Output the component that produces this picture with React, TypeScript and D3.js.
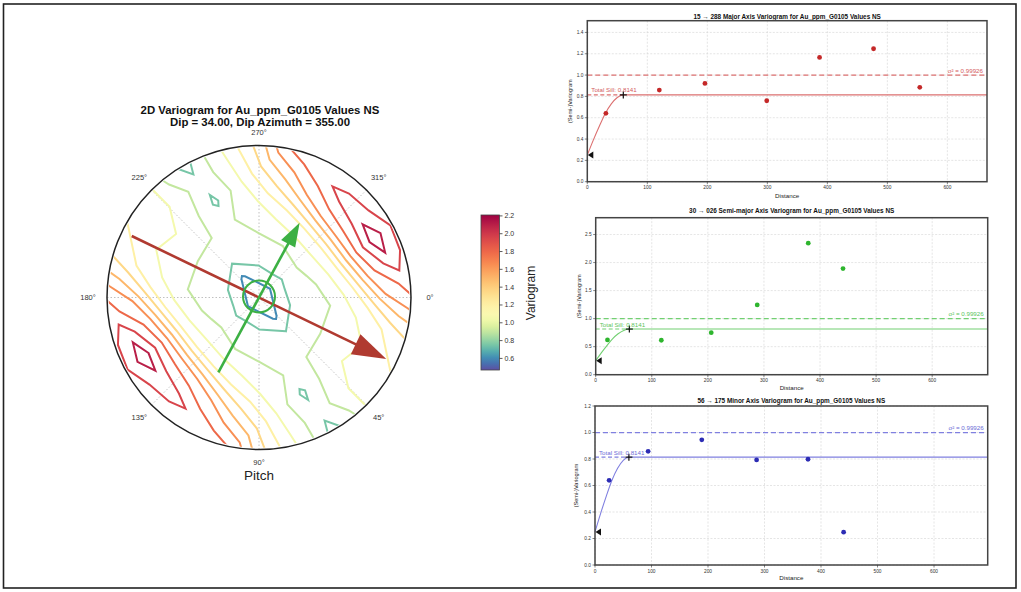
import React from "react";
import * as d3 from "d3";

const W = 1021;
const H = 592;
const FONT = "'Liberation Sans', Arial, sans-serif";

// ---- 2D variogram map ----
// grid in a frame turned by gridAngle: columns run along the
// ridge normal, rows along the ridge (13 x 13, first row = far up-left end)
const gridAngle = -38.5;
const gridCols = 13;
const gridRows = 13;
const gridValues: number[][] = [
  [1.65, 1.75, 1.4, 1.3, 1.2, 1.15, 0.87, 0.68, 0.95, 1.15, 1.4, 1.7, 1.7],
  [1.7, 1.8, 1.45, 1.25, 1.15, 1.12, 0.97, 0.8, 0.95, 1.2, 1.45, 1.8, 1.75],
  [1.75, 1.85, 1.55, 1.2, 1.05, 1.05, 0.93, 0.72, 0.96, 1.25, 1.6, 1.92, 1.8],
  [1.8, 1.88, 1.65, 1.15, 0.95, 0.93, 0.9, 0.89, 0.95, 1.25, 1.6, 1.9, 1.8],
  [1.85, 2.06, 1.72, 1.12, 0.9, 0.85, 0.82, 0.86, 0.93, 1.2, 1.65, 1.92, 1.8],
  [1.9, 2.2, 1.75, 1.12, 0.88, 0.8, 0.58, 0.8, 0.9, 1.15, 1.7, 2.0, 1.85],
  [1.85, 2.06, 1.72, 1.12, 0.92, 0.72, 0.45, 0.72, 0.92, 1.12, 1.72, 2.06, 1.85],
  [1.85, 2.0, 1.7, 1.15, 0.9, 0.8, 0.58, 0.8, 0.88, 1.12, 1.75, 2.2, 1.9],
  [1.8, 1.92, 1.65, 1.2, 0.93, 0.86, 0.82, 0.85, 0.9, 1.12, 1.72, 2.06, 1.85],
  [1.8, 1.9, 1.6, 1.25, 0.95, 0.89, 0.9, 0.93, 0.95, 1.15, 1.65, 1.88, 1.8],
  [1.8, 1.92, 1.6, 1.25, 0.96, 0.72, 0.93, 1.05, 1.05, 1.2, 1.55, 1.85, 1.75],
  [1.75, 1.8, 1.45, 1.2, 0.95, 0.8, 0.97, 1.12, 1.15, 1.25, 1.45, 1.8, 1.7],
  [1.7, 1.7, 1.4, 1.15, 0.95, 0.68, 0.87, 1.15, 1.2, 1.3, 1.4, 1.75, 1.65],
];
const contourLevels = [0.6, 0.75, 0.9, 1.05, 1.2, 1.35, 1.5, 1.65, 1.8, 1.95, 2.1];
const colorMin = 0.47;
const colorMid = 1.1;
const colorMax = 2.21;
const colorbarTicks = [0.6, 0.8, 1.0, 1.2, 1.4, 1.6, 1.8, 2.0, 2.2];
const angleTicks = [0, 45, 90, 135, 180, 225, 270, 315];

// arrows: angle (deg, clockwise from east), half length (fraction of radius)
const majorArrow = { angle: 25.8, len: 0.93 };
const semiArrow = { angle: -61.5, len: 0.56 };

// ---- experimental variograms ----
const xTicks = [0, 100, 200, 300, 400, 500, 600];
const majorLag = [31, 120, 196, 299, 387, 477, 554];
const majorGamma = [0.641, 0.859, 0.922, 0.759, 1.166, 1.247, 0.885];
const semiLag = [21, 117, 206, 288, 379, 441];
const semiGamma = [0.62, 0.614, 0.75, 1.245, 2.346, 1.893];
const minorLag = [25, 94, 189, 286, 377, 440];
const minorGamma = [0.639, 0.858, 0.945, 0.793, 0.798, 0.248];

// fitted model
const modelLag = [0, 10, 20, 30, 40, 50, 60];
const modelGamma = [0.25, 0.39, 0.52, 0.64, 0.73, 0.79, 0.8141];
const totalSill = 0.8141;
const sigma2 = 0.99926;
const nugget = 0.25;
const modelRange = 60;

// spectral_r, pale yellow placed near the sill
const colorT = d3.scaleLinear().domain([colorMin, colorMid, colorMax]).range([0, 0.5, 1]).clamp(true);
const colorOf = (v: number) => d3.interpolateSpectral(1 - colorT(v));

function PolarMap() {
  const cx = 259;
  const cy = 297.5;
  const R = 152;
  const su = d3.scaleLinear().domain([0.5, gridCols - 0.5]).range([-R, R]);
  const sv = d3.scaleLinear().domain([0.5, gridRows - 0.5]).range([-R, R]);
  const a = (gridAngle * Math.PI) / 180;
  const nx = Math.cos(a), ny = Math.sin(a);
  const contours = d3.contours().size([gridCols, gridRows]).thresholds(contourLevels)(gridValues.flat());
  const path = d3.geoPath(
    d3.geoTransform({
      point(x: number, y: number) {
        const s = su(x), t = sv(y);
        // @ts-ignore
        this.stream.point(cx + s * nx - t * ny, cy + s * ny + t * nx);
      },
    })
  );

  const arrow = (ar: { angle: number; len: number }, color: string, headL: number, headW: number) => {
    const t = (ar.angle * Math.PI) / 180;
    const ux = Math.cos(t), uy = Math.sin(t);
    const L = ar.len * R;
    const sx = cx - L * ux, sy = cy - L * uy;
    const tx = cx + L * ux, ty = cy + L * uy;
    const bx = tx - headL * ux, by = ty - headL * uy;
    const pts = [
      [tx, ty],
      [bx - headW * uy, by + headW * ux],
      [bx + headW * uy, by - headW * ux],
    ];
    return (
      <g>
        <line x1={sx} y1={sy} x2={bx + ux * 2} y2={by + uy * 2} stroke={color} strokeWidth={2.6} />
        <polygon points={pts.map((p) => p.join(",")).join(" ")} fill={color} />
      </g>
    );
  };

  return (
    <g>
      <text x={260} y={114} textAnchor="middle" fontFamily={FONT} fontWeight="bold" fontSize={11.4} fill="#111">
        2D Variogram for Au_ppm_G0105 Values NS
      </text>
      <text x={260} y={126} textAnchor="middle" fontFamily={FONT} fontWeight="bold" fontSize={11.4} fill="#111">
        Dip = 34.00, Dip Azimuth = 355.00
      </text>
      <defs>
        <clipPath id="polarClip">
          <circle cx={cx} cy={cy} r={R - 1.5} />
        </clipPath>
      </defs>
      {angleTicks.map((d) => {
        const t = (d * Math.PI) / 180;
        return (
          <line key={"g" + d} x1={cx} y1={cy} x2={cx + R * Math.cos(t)} y2={cy + R * Math.sin(t)}
            stroke="#b0b0b0" strokeWidth={0.8} strokeDasharray="1.5,2" />
        );
      })}
      <g clipPath="url(#polarClip)">
        {contours.map((c, i) => (
          <path key={i} d={path(c as any) || ""} fill="none" stroke={colorOf(c.value)}
            strokeWidth={2} strokeLinejoin="miter" />
        ))}
      </g>
      <circle cx={cx} cy={cy} r={R} fill="none" stroke="#222" strokeWidth={1.5} />
      {angleTicks.map((d) => {
        const t = (d * Math.PI) / 180;
        const rr = 165 + 6 * Math.abs(Math.cos(t));
        return (
          <text key={"l" + d} x={cx + rr * Math.cos(t)} y={cy + rr * Math.sin(t)} textAnchor="middle"
            dominantBaseline="central" fontFamily={FONT} fontSize={7.5} fill="#333">
            {d}°
          </text>
        );
      })}
      {arrow(majorArrow, "#b03a30", 34, 11)}
      {arrow(semiArrow, "#3cb043", 24, 8)}
      <circle cx={cx} cy={cy - 1} r={16} fill="none" stroke="#3cb043" strokeWidth={2} />
      <text x={cx} y={480} textAnchor="middle" fontFamily={FONT} fontSize={13.5} fill="#222">
        Pitch
      </text>
    </g>
  );
}

function Colorbar() {
  const x0 = 481, x1 = 499.5, y0 = 215, y1 = 370;
  const y = d3.scaleLinear().domain([colorMin, colorMax]).range([y1, y0]);
  const stops = d3.range(0, 1.0001, 0.04);
  return (
    <g>
      <defs>
        <linearGradient id="cbGrad" x1="0" y1="1" x2="0" y2="0">
          {stops.map((s) => (
            <stop key={s} offset={s} stopColor={colorOf(colorMin + s * (colorMax - colorMin))} />
          ))}
        </linearGradient>
      </defs>
      <rect x={x0} y={y0} width={x1 - x0} height={y1 - y0} fill="url(#cbGrad)" stroke="#444" strokeWidth={0.8} />
      {colorbarTicks.map((t) => (
        <g key={t}>
          <line x1={x1} x2={x1 + 3} y1={y(t)} y2={y(t)} stroke="#333" strokeWidth={0.8} />
          <text x={x1 + 5} y={y(t)} dominantBaseline="central" fontFamily={FONT} fontSize={7} fill="#333">
            {t.toFixed(1)}
          </text>
        </g>
      ))}
      <text transform={`translate(531,293) rotate(-90)`} textAnchor="middle" dominantBaseline="central"
        fontFamily={FONT} fontSize={12} fill="#222">
        Variogram
      </text>
    </g>
  );
}

interface PanelSpec {
  title: string;
  x0: number; x1: number; y0: number; y1: number;
  xMax: number; yMax: number; yTicks: number[];
  lags: number[]; gammas: number[];
  pointColor: string; lineColor: string; labelColor: string;
  titleY: number; xlabelY: number; ylabelX: number;
}

function Panel({ p }: { p: PanelSpec }) {
  const x = d3.scaleLinear().domain([0, p.xMax]).range([p.x0, p.x1]);
  const y = d3.scaleLinear().domain([0, p.yMax]).range([p.y1, p.y0]);
  const model: [number, number][] = modelLag.map((d, i) => [d, modelGamma[i]] as [number, number]);
  model.push([p.xMax, totalSill]);
  const line = d3.line<[number, number]>().x((d) => x(d[0])).y((d) => y(d[1])).curve(d3.curveMonotoneX);
  const cxm = (p.x0 + p.x1) / 2;
  const fs = 4.8;
  return (
    <g fontFamily={FONT}>
      <text x={cxm} y={p.titleY} textAnchor="middle" dominantBaseline="central" fontWeight="bold" fontSize={6.4} fill="#111">
        {p.title}
      </text>
      {xTicks.map((t) => (
        <line key={"vx" + t} x1={x(t)} x2={x(t)} y1={p.y0} y2={p.y1} stroke="#d4d4d4" strokeWidth={0.6} strokeDasharray="2,1.5" />
      ))}
      {p.yTicks.map((t) => (
        <line key={"hy" + t} x1={p.x0} x2={p.x1} y1={y(t)} y2={y(t)} stroke="#d4d4d4" strokeWidth={0.6} strokeDasharray="2,1.5" />
      ))}
      <line x1={p.x0} x2={p.x1} y1={y(sigma2)} y2={y(sigma2)} stroke={p.lineColor} strokeWidth={1.1} strokeDasharray="5,3" />
      <line x1={x(0)} x2={x(modelRange)} y1={y(totalSill)} y2={y(totalSill)} stroke={p.lineColor} strokeWidth={1.1} strokeDasharray="4,2.5" />
      <path d={line(model) || ""} fill="none" stroke={p.lineColor} strokeWidth={1.1} />
      {p.lags.map((d, i) => (
        <circle key={"pt" + i} cx={x(d)} cy={y(p.gammas[i])} r={2.4} fill={p.pointColor} />
      ))}
      <polygon
        points={`${x(0) + 0.5},${y(nugget)} ${x(0) + 6},${y(nugget) - 3.5} ${x(0) + 6},${y(nugget) + 3.5}`}
        fill="#111"
      />
      <g stroke="#111" strokeWidth={1.2}>
        <line x1={x(modelRange) - 3.5} x2={x(modelRange) + 3.5} y1={y(totalSill)} y2={y(totalSill)} />
        <line x1={x(modelRange)} x2={x(modelRange)} y1={y(totalSill) - 3.5} y2={y(totalSill) + 3.5} />
      </g>
      <text x={x(0) + 4} y={y(totalSill) - 2.5} fontSize={6.2} fill={p.labelColor}>
        Total Sill: 0.8141
      </text>
      <text x={p.x1 - 4} y={y(sigma2) - 2.5} textAnchor="end" fontSize={6.2} fill={p.labelColor}>
        σ² = 0.99926
      </text>
      <rect x={p.x0} y={p.y0} width={p.x1 - p.x0} height={p.y1 - p.y0} fill="none" stroke="#444" strokeWidth={1.5} />
      {xTicks.map((t) => (
        <g key={"xt" + t}>
          <line x1={x(t)} x2={x(t)} y1={p.y1} y2={p.y1 + 2.5} stroke="#333" strokeWidth={0.6} />
          <text x={x(t)} y={p.y1 + 6} textAnchor="middle" dominantBaseline="central" fontSize={fs} fill="#333">
            {t}
          </text>
        </g>
      ))}
      {p.yTicks.map((t) => (
        <g key={"yt" + t}>
          <line x1={p.x0 - 2.5} x2={p.x0} y1={y(t)} y2={y(t)} stroke="#333" strokeWidth={0.6} />
          <text x={p.x0 - 4} y={y(t)} textAnchor="end" dominantBaseline="central" fontSize={fs} fill="#333">
            {t.toFixed(1)}
          </text>
        </g>
      ))}
      <text x={cxm} y={p.xlabelY} textAnchor="middle" dominantBaseline="central" fontSize={6.2} fill="#222">
        Distance
      </text>
      <text transform={`translate(${p.ylabelX},${(p.y0 + p.y1) / 2}) rotate(-90)`} textAnchor="middle"
        dominantBaseline="central" fontSize={5.6} fill="#222">
        (Semi-)Variogram
      </text>
    </g>
  );
}

const panels: PanelSpec[] = [
  {
    title: "15 → 288 Major Axis Variogram for Au_ppm_G0105 Values NS",
    x0: 587.3, x1: 987, y0: 20.7, y1: 181.7, xMax: 666, yMax: 1.51,
    yTicks: [0, 0.2, 0.4, 0.6, 0.8, 1.0, 1.2, 1.4],
    lags: majorLag, gammas: majorGamma,
    pointColor: "#c42828", lineColor: "#dc7070", labelColor: "#d45c5c",
    titleY: 16, xlabelY: 195.7, ylabelX: 570,
  },
  {
    title: "30 → 026 Semi-major Axis Variogram for Au_ppm_G0105 Values NS",
    x0: 595.7, x1: 987.7, y0: 217.7, y1: 374.7, xMax: 699, yMax: 2.8,
    yTicks: [0, 0.5, 1.0, 1.5, 2.0, 2.5],
    lags: semiLag, gammas: semiGamma,
    pointColor: "#2eb52e", lineColor: "#72d072", labelColor: "#5cc45c",
    titleY: 210.7, xlabelY: 387.5, ylabelX: 579,
  },
  {
    title: "56 → 175 Minor Axis Variogram for Au_ppm_G0105 Values NS",
    x0: 595, x1: 987.7, y0: 406, y1: 565, xMax: 695, yMax: 1.2,
    yTicks: [0, 0.2, 0.4, 0.6, 0.8, 1.0, 1.2],
    lags: minorLag, gammas: minorGamma,
    pointColor: "#2c2cb4", lineColor: "#8080e0", labelColor: "#6b6bd6",
    titleY: 400.7, xlabelY: 577.7, ylabelX: 576,
  },
];

export default function App() {
  return (
    <svg width={W} height={H} viewBox={`0 0 ${W} ${H}`}
      style={{ position: "absolute", left: 0, top: 0, background: "#fff" }}>
      <rect x={0} y={0} width={W} height={H} fill="#fff" />
      <rect x={3.5} y={4} width={1012.5} height={584} fill="none" stroke="#222" strokeWidth={1.6} />
      <PolarMap />
      <Colorbar />
      {panels.map((p, i) => (
        <Panel key={i} p={p} />
      ))}
    </svg>
  );
}
